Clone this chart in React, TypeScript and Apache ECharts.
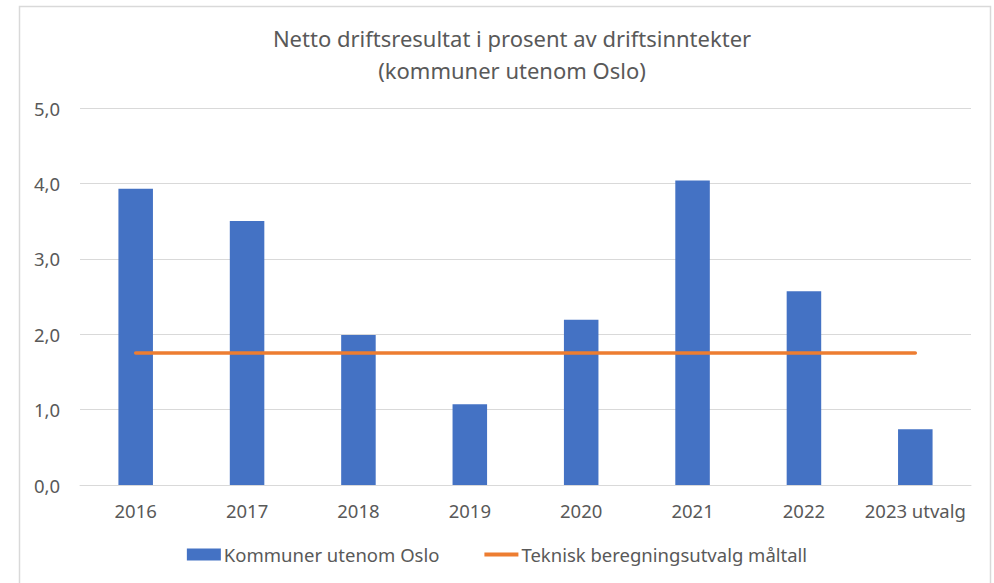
import React, { useEffect, useRef } from "react";
import * as echarts from "echarts";

const categories = ["2016", "2017", "2018", "2019", "2020", "2021", "2022", "2023 utvalg"];
const kommunerValues = [3.93, 3.5, 1.99, 1.07, 2.19, 4.04, 2.57, 0.74];
const maltallValues = [1.75, 1.75, 1.75, 1.75, 1.75, 1.75, 1.75, 1.75];
const titleText = "Netto driftsresultat i prosent av driftsinntekter\n(kommuner utenom Oslo)";
const seriesNames = ["Kommuner utenom Oslo", "Teknisk beregningsutvalg måltall"];

const FONT = "'Noto Sans', 'Open Sans', sans-serif";
const TXT = "#595959";

export default function App() {
  const ref = useRef<HTMLDivElement>(null);
  useEffect(() => {
    document.body.style.margin = "0";
    const chart = echarts.init(ref.current!, null, { renderer: "svg" });
    chart.setOption({
      animation: false,
      backgroundColor: "#ffffff",
      textStyle: { fontFamily: FONT },
      title: {
        text: titleText,
        left: 507,
        textAlign: "center",
        top: 17,
        textStyle: { color: TXT, fontSize: 22, fontWeight: "normal", lineHeight: 32, fontFamily: FONT },
      },
      graphic: [
        {
          type: "rect",
          shape: { x: 19.5, y: 6.5, width: 971, height: 600 },
          style: { fill: "none", stroke: "#D9D9D9", lineWidth: 1.5 },
          silent: true,
        },
      ],
      grid: { left: 80, right: 23, top: 108, bottom: 98 },
      legend: {
        bottom: 14,
        left: "center",
        itemGap: 45,
        itemWidth: 34,
        itemHeight: 12,
        textStyle: { color: TXT, fontSize: 18.5, fontFamily: FONT, padding: [0, 0, 0, -2] },
        data: [
          { name: seriesNames[0], icon: "rect" },
          { name: seriesNames[1], icon: "path://M0 0 H34 V4 H0 Z" },
        ],
      },
      xAxis: {
        type: "category",
        data: categories,
        axisLine: { lineStyle: { color: "#D9D9D9", width: 1 } },
        axisTick: { show: false },
        axisLabel: { color: TXT, fontSize: 18.5, margin: 16, fontFamily: FONT, interval: 0 },
      },
      yAxis: {
        type: "value",
        min: 0,
        max: 5,
        interval: 1,
        axisLine: { show: false },
        axisTick: { show: false },
        splitLine: { lineStyle: { color: "#D9D9D9", width: 1 } },
        axisLabel: {
          color: TXT,
          fontSize: 18.5,
          margin: 20,
          fontFamily: FONT,
          formatter: (v: number) => v.toFixed(1).replace(".", ","),
        },
      },
      series: [
        {
          name: seriesNames[0],
          type: "bar",
          data: kommunerValues,
          barWidth: "31%",
          itemStyle: { color: "#4472C4" },
        },
        {
          name: seriesNames[1],
          type: "line",
          data: maltallValues,
          symbol: "none",
          lineStyle: { color: "#ED7D31", width: 3.5, cap: "round" },
          itemStyle: { color: "#ED7D31" },
        },
      ],
    });
    return () => chart.dispose();
  }, []);
  return <div ref={ref} style={{ width: 994, height: 583, position: "absolute", left: 0, top: 0 }} />;
}
